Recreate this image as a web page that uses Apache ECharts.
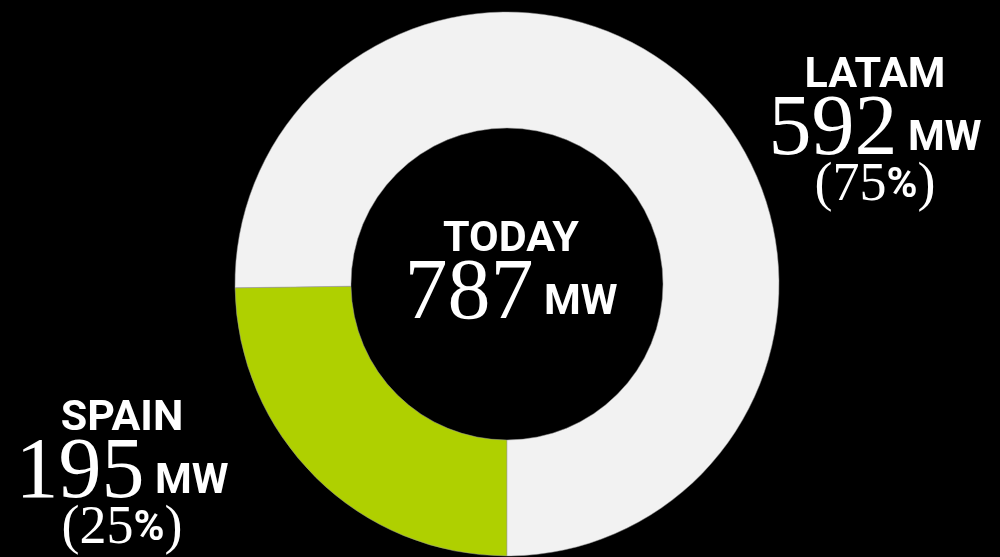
<!DOCTYPE html>
<html>
<head>
<meta charset="utf-8">
<script src="https://cdn.jsdelivr.net/npm/echarts@6/dist/echarts.min.js"></script>
<style>
  html, body { margin: 0; padding: 0; background: #000; }
  #chart { width: 1000px; height: 557px; }
</style>
</head>
<body>
<div id="chart"></div>
<script>
const categories = ['SPAIN', 'LATAM'];
const values = [195, 592];
const percents = [25, 75];
const unit = 'MW';
const centerTitle = 'TODAY';
const colors = ['#afd000', '#f2f2f2'];

const total = values.reduce((a, b) => a + b, 0);

const SERIF = '"Liberation Serif", "DejaVu Serif", serif';
const SANS = 'Roboto, "Liberation Sans", sans-serif';

const rich = {
  name: { fontFamily: SANS, fontWeight: 'bold', fontSize: 43, color: '#fff', lineHeight: 44 },
  val: { fontFamily: SERIF, fontSize: 86, color: '#fff', lineHeight: 66 },
  mw: { fontFamily: SANS, fontWeight: 'bold', fontSize: 42, color: '#fff', lineHeight: 66, padding: [16, 0, 0, 0] },
  pct: { fontFamily: SERIF, fontSize: 54, color: '#fff', lineHeight: 44 },
  pctS: { fontFamily: SANS, fontWeight: 'bold', fontSize: 42, color: '#fff', lineHeight: 44 }
};

const labelPos = {
  SPAIN: { x: 122, y: 474 },
  LATAM: { x: 875, y: 131 }
};

const chart = echarts.init(document.getElementById('chart'));
chart.setOption({
  backgroundColor: '#000',
  animation: false,
  series: [{
    type: 'pie',
    center: [507, 284],
    radius: [156, 272],
    startAngle: 270,
    clockwise: true,
    silent: true,
    itemStyle: { borderColor: '#999', borderWidth: 0.5 },
    label: {
      show: true,
      position: 'outside',
      align: 'center',
      formatter: function (p) {
        const i = p.dataIndex;
        return '{name|' + categories[i] + '}\n{val|' + values[i] + '}{mw| ' + unit + '}\n{pct|(' + percents[i] + '}{pctS|%}{pct|)}';
      },
      rich: rich
    },
    labelLine: { show: false },
    labelLayout: function (params) {
      const name = categories[params.dataIndex];
      const pos = labelPos[name];
      return { x: pos.x, y: pos.y, align: 'center', verticalAlign: 'middle', hideOverlap: false };
    },
    data: categories.map((c, i) => ({ name: c, value: values[i], itemStyle: { color: colors[i] } }))
  }],
  graphic: [{
    type: 'text',
    x: 511,
    y: 273,
    style: {
      text: '{name|' + centerTitle + '}\n{val|' + total + '}{mw| ' + unit + '}',
      rich: rich,
      align: 'center',
      verticalAlign: 'middle',
      fill: '#fff'
    }
  }]
});
</script>
</body>
</html>
